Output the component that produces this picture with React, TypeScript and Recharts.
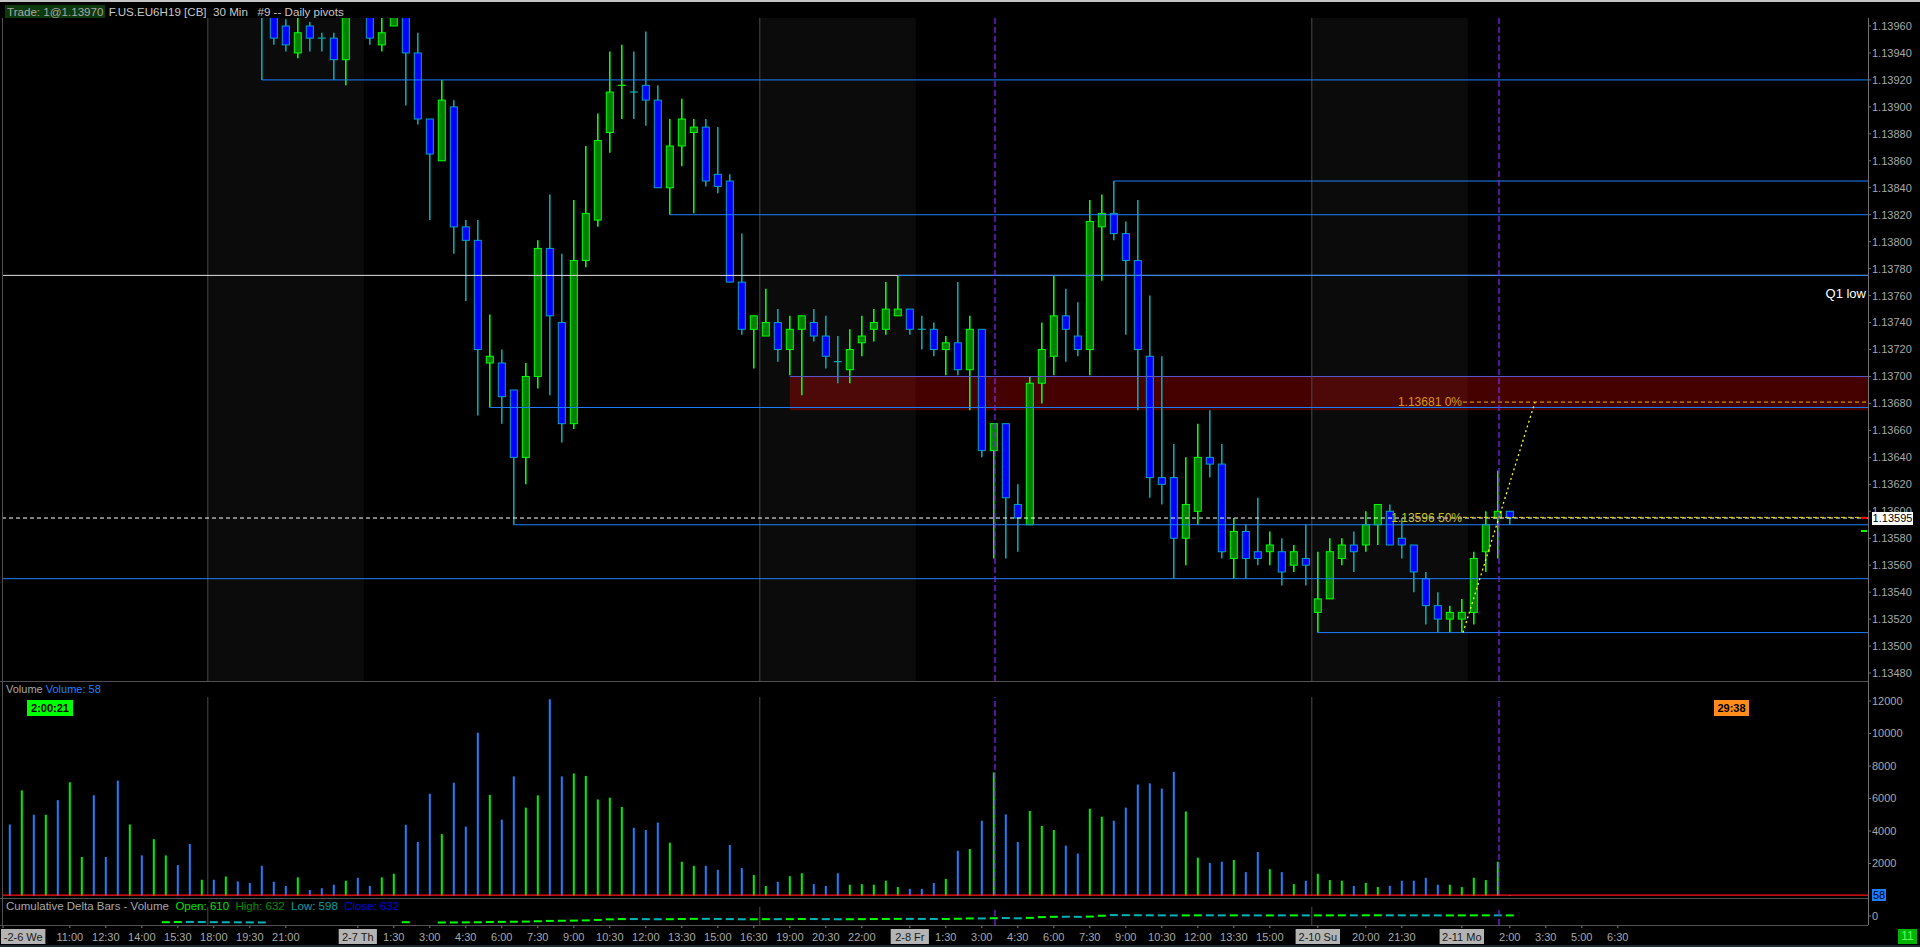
import React from "react";
import { ComposedChart, Bar, XAxis, YAxis, ReferenceLine, ReferenceArea, Cell } from "recharts";

// 30-min bars, 2-6 08:30 .. 2-11 02:00 (ET), index = bar number
const opens = [
  1.1406, 1.14035, 1.1407, 1.14045, 1.14085, 1.14055, 1.141, 1.1411, 1.14075, 1.14065,
  1.1402, 1.1405, 1.14035, 1.14055, 1.14065, 1.14045, 1.14015, 1.14025, 1.14015, 1.1402,
  1.14005, 1.1399, 1.1397, 1.1396, 1.1394, 1.1396, 1.13951, 1.13951, 1.13935, 1.13975,
  1.13972, 1.13946, 1.1396, 1.1397, 1.1394, 1.13891, 1.1386, 1.139, 1.13811, 1.13801,
  1.1371, 1.1371, 1.1369, 1.1364, 1.137, 1.13795, 1.1374, 1.13665, 1.13786, 1.13816,
  1.13881, 1.13915, 1.13911, 1.13916, 1.13905, 1.1384, 1.13871, 1.13881, 1.13885, 1.1385,
  1.13845, 1.1377, 1.13735, 1.1373, 1.1374, 1.1372, 1.13735, 1.1374, 1.1373, 1.13711,
  1.13705, 1.13725, 1.13735, 1.13735, 1.13745, 1.1375, 1.13735, 1.13735, 1.1372, 1.13725,
  1.13705, 1.13735, 1.13645, 1.13665, 1.13605, 1.1359, 1.13695, 1.13715, 1.13745, 1.1373,
  1.1372, 1.13811, 1.13821, 1.13806, 1.13786, 1.13715, 1.13625, 1.13625, 1.1358, 1.136,
  1.1364, 1.13635, 1.13565, 1.13585, 1.1357, 1.1357, 1.1357, 1.1356, 1.13565, 1.13525,
  1.13535, 1.13565, 1.13575, 1.13575, 1.1359, 1.136, 1.1358, 1.13575, 1.1355, 1.1353,
  1.1352, 1.1352, 1.13525, 1.1357, 1.13595, 1.136,
];
const highs = [
  1.14075, 1.1408, 1.14085, 1.1409, 1.14095, 1.1411, 1.14115, 1.1412, 1.14085, 1.1407,
  1.14055, 1.1406, 1.1406, 1.1407, 1.1407, 1.1405, 1.1403, 1.1403, 1.14025, 1.14025,
  1.1401, 1.14, 1.13978, 1.13965, 1.13968, 1.13963, 1.13955, 1.13955, 1.13975, 1.13985,
  1.13976, 1.13967, 1.13975, 1.13975, 1.13955, 1.13891, 1.1392, 1.13905, 1.13816, 1.13816,
  1.13746, 1.1372, 1.1369, 1.1371, 1.13801, 1.13835, 1.13791, 1.13831, 1.13871, 1.13895,
  1.13941, 1.13946, 1.13941, 1.13956, 1.13916, 1.13891, 1.13906, 1.13891, 1.13891, 1.13885,
  1.1385, 1.13806, 1.13745, 1.13765, 1.1375, 1.13745, 1.13745, 1.1375, 1.13745, 1.1373,
  1.13735, 1.13745, 1.1375, 1.1377, 1.13775, 1.1375, 1.13745, 1.1374, 1.1373, 1.1377,
  1.13745, 1.13735, 1.13665, 1.13665, 1.1362, 1.137, 1.1374, 1.13775, 1.13765, 1.13755,
  1.13831, 1.13835, 1.13845, 1.13815, 1.13831, 1.1376, 1.13715, 1.1365, 1.1364, 1.13665,
  1.13675, 1.1365, 1.13595, 1.1359, 1.1361, 1.13585, 1.1358, 1.13575, 1.1359, 1.1357,
  1.1358, 1.1358, 1.13585, 1.136, 1.13605, 1.13605, 1.13595, 1.13575, 1.13555, 1.1354,
  1.1353, 1.13535, 1.1357, 1.136, 1.1363, 1.136,
];
const lows = [
  1.1403, 1.14025, 1.1404, 1.1404, 1.1405, 1.1405, 1.1409, 1.1407, 1.1406, 1.1401,
  1.1401, 1.1403, 1.1403, 1.14045, 1.1404, 1.1401, 1.1401, 1.1401, 1.1401, 1.14,
  1.13985, 1.1392, 1.13946, 1.13941, 1.13936, 1.13941, 1.13941, 1.1392, 1.13916, 1.1397,
  1.13946, 1.13941, 1.1396, 1.13901, 1.13887, 1.13816, 1.1386, 1.13791, 1.13756, 1.13671,
  1.13677, 1.13665, 1.1359, 1.1362, 1.13691, 1.13686, 1.13651, 1.13661, 1.13781, 1.13811,
  1.13866, 1.13891, 1.13891, 1.13886, 1.1384, 1.1382, 1.13856, 1.13821, 1.13841, 1.13836,
  1.1377, 1.13731, 1.13706, 1.1373, 1.13711, 1.13701, 1.13686, 1.13726, 1.13706, 1.13695,
  1.13695, 1.13715, 1.13726, 1.13731, 1.13745, 1.13731, 1.1372, 1.13715, 1.13701, 1.13701,
  1.13675, 1.1364, 1.13565, 1.13565, 1.1357, 1.1359, 1.1368, 1.13701, 1.13711, 1.13715,
  1.13701, 1.13771, 1.13801, 1.13731, 1.13675, 1.1361, 1.13605, 1.1355, 1.1356, 1.1359,
  1.13625, 1.13565, 1.1355, 1.1355, 1.1356, 1.1356, 1.13545, 1.13555, 1.13545, 1.1351,
  1.13535, 1.1356, 1.13555, 1.1357, 1.13575, 1.13575, 1.13565, 1.1354, 1.13516, 1.1351,
  1.1351, 1.1351, 1.13516, 1.13555, 1.13565, 1.1359,
];
const closes = [
  1.14035, 1.1407, 1.14045, 1.14085, 1.14055, 1.141, 1.1411, 1.14075, 1.14065, 1.1402,
  1.1405, 1.14035, 1.14055, 1.14065, 1.14045, 1.14015, 1.14025, 1.14015, 1.1402, 1.14005,
  1.1399, 1.13968, 1.13951, 1.13946, 1.13955, 1.13951, 1.1395, 1.13935, 1.13968, 1.13972,
  1.13951, 1.13955, 1.1397, 1.1394, 1.13891, 1.13865, 1.13905, 1.13811, 1.13801, 1.1372,
  1.13715, 1.13685, 1.1364, 1.137, 1.13795, 1.13745, 1.13665, 1.13786, 1.13821, 1.13875,
  1.13911, 1.13916, 1.1391, 1.13905, 1.1384, 1.13871, 1.13891, 1.13885, 1.13845, 1.13841,
  1.1377, 1.13735, 1.13745, 1.1374, 1.1372, 1.13735, 1.13745, 1.1373, 1.13715, 1.1371,
  1.1372, 1.1373, 1.1374, 1.1375, 1.1375, 1.13735, 1.13734, 1.1372, 1.13725, 1.13705,
  1.13735, 1.13645, 1.13665, 1.1361, 1.13595, 1.13695, 1.1372, 1.13745, 1.13735, 1.1372,
  1.13815, 1.13821, 1.13806, 1.13786, 1.1372, 1.13625, 1.1362, 1.1358, 1.13605, 1.1364,
  1.13635, 1.1357, 1.13585, 1.13565, 1.13565, 1.13575, 1.13555, 1.1357, 1.1356, 1.13535,
  1.1357, 1.13575, 1.1357, 1.1359, 1.13605, 1.13575, 1.13575, 1.13555, 1.1353, 1.1352,
  1.13525, 1.13525, 1.13565, 1.1359, 1.136, 1.13595,
];
const volumes = [
  4400, 6500, 5000, 5000, 5900, 7000, 2400, 6200, 2400, 7100,
  4400, 2500, 3500, 2500, 1900, 3200, 1000, 1000, 1200, 900,
  800, 1860, 870, 620, 1150, 370, 480, 690, 940, 1120,
  620, 1150, 1370, 4380, 3320, 6290, 3810, 6970, 4270, 10050,
  6220, 4700, 7360, 5440, 6190, 12110, 7360, 7540, 7390, 5940,
  6050, 5480, 4200, 4060, 4520, 3280, 2110, 1860, 1860, 1610,
  3140, 1720, 1290, 620, 870, 1220, 1400, 730, 620, 1400,
  690, 730, 690, 940, 550, 440, 440, 800, 1050, 2780,
  2890, 4630, 7610, 5020, 3320, 5230, 4310, 4060, 3100, 2610,
  5370, 4880, 4630, 5440, 6860, 6930, 6610, 7640, 5200, 2360,
  2040, 2110, 2220, 1470, 2710, 1650, 1470, 730, 940, 1370,
  980, 940, 620, 800, 550, 620, 940, 940, 1120, 690,
  690, 550, 1120, 980, 2110, 58,
];
// cumulative delta (null = not drawn inside the strip)
const cumDelta: (number | null)[] = [
  null, null, null, null, null, null, null, null, null, null,
  null, null, null, -6200, -5900, -6000, -6100, -6200, -6300, -6350,
  -6400, -6500, null, null, null, null, null, null, null, null,
  null, null, null, -6200, null, null, -6500, -6400, -6300, -6200,
  -5900, -5800, -5700, -5500, -5000, -4800, -4700, -4500, -4300, -3500,
  -3200, -3000, -3100, -3200, -3300, -3100, -2900, -2800, -2900, -3000,
  -3200, -3300, -3200, -3100, -3200, -3100, -3000, -3100, -3200, -3300,
  -3200, -3100, -3000, -2900, -2850, -2900, -2950, -3000, -2900, -2600,
  -2300, -2600, -1900, -2200, -2400, -1300, -900, -700, -800, -900,
  -300, 900, 850, 800, 750, 650, 620, 560, 640, 700,
  680, 620, 660, 630, 600, 630, 610, 630, 620, 640,
  670, 690, 680, 700, 720, 690, 680, 660, 630, 610,
  620, 630, 660, 690, 610, 632,
];

const priceTicks = [
  1.1348, 1.135, 1.1352, 1.1354, 1.1356, 1.1358, 1.136, 1.1362, 1.1364, 1.1366, 1.1368, 1.137, 1.1372,
  1.1374, 1.1376, 1.1378, 1.138, 1.1382, 1.1384, 1.1386, 1.1388, 1.139, 1.1392, 1.1394, 1.1396,
];
const volumeTicks = [2000, 4000, 6000, 8000, 10000, 12000];

const X_MIN = -0.5667;
const X_MAX = 154.85;

const tickBars = [
  X_MIN, 5, 8, 11, 14, 17, 20, 23, 29, 32, 35, 38, 41, 44, 47, 50, 53, 56, 59, 62, 65, 68, 71, 75,
  78, 81, 84, 87, 90, 93, 96, 99, 102, 105, 109, 113, 116, 121, 125, 128, 131, 134,
];
const tickTexts = [
  "-2-6 We", "11:00", "12:30", "14:00", "15:30", "18:00", "19:30", "21:00", "2-7 Th", "1:30", "3:00",
  "4:30", "6:00", "7:30", "9:00", "10:30", "12:00", "13:30", "15:00", "16:30", "19:00", "20:30",
  "22:00", "2-8 Fr", "1:30", "3:00", "4:30", "6:00", "7:30", "9:00", "10:30", "12:00", "13:30",
  "15:00", "2-10 Su", "20:00", "21:30", "2-11 Mo", "2:00", "3:30", "5:00", "6:30",
];

// swing-point lines of the "Daily pivots" study
const pivotLevels = [1.1392, 1.13845, 1.1382, 1.13775, 1.13677, 1.1359, 1.1355, 1.1351];
const pivotStarts = [21, 92, 55, 74, 40, 42, -1, 109];

const sessionBreaks = [16.5, 62.5, 108.5];
const shadeFrom = [16.5, 62.5, 108.5];
const shadeTo = [29.5, 75.5, 121.5];
const markerBars = [82.1, 124.1];

const zoneFrom = 65;
const zoneLow = 1.13675;
const zoneHigh = 1.137;
const q1Low = 1.13775;
const lastPrice = 1.13595;
const fibLowBar = 121.1;
const fibHighBar = 127.1;
const fibLow = 1.1351;
const fibHigh = 1.13681;
const fibMid = 1.135955;

const P_MIN = 1.13474095;
const P_MAX = 1.13965935;
const V_MAX = 12246;
const D_MIN = -9000;
const D_MAX = 9000;

const UP_WICK = "#00ff00";
const UP_BODY = "#008000";
const DOWN_WICK = "#00a8b0";
const DOWN_BODY = "#0000ff";
const DOWN_EDGE = "#0aa0c8";
const VOL_UP = "#00ee00";
const VOL_DOWN = "#1e80ff";
const PIVOT = "#1e80ff";
const GRID_GRAY = "#4a4a4a";
const AXIS_TEXT = "#a8a8a8";
const FONT = "'Liberation Sans', Arial, sans-serif";

const rows = opens.map((o, i) => {
  const d = cumDelta[i];
  const prev = i > 0 && cumDelta[i - 1] != null ? (cumDelta[i - 1] as number) : d;
  return {
    i,
    open: o,
    high: highs[i],
    low: lows[i],
    close: closes[i],
    range: [lows[i], highs[i]],
    volume: volumes[i],
    dOpen: prev,
    dClose: d,
    dRange: d == null || prev == null ? null : [Math.min(prev, d), Math.max(prev, d)],
  };
});

const Candle = (props: any) => {
  const { x, y, width, height, payload } = props;
  if (x == null || y == null || !payload) return null;
  const { open, high, low, close } = payload;
  const cx = x + width / 2;
  const py = (p: number) => y + ((high - p) / (high - low)) * height;
  const up = close >= open;
  const wick = up ? UP_WICK : DOWN_WICK;
  const top = py(Math.max(open, close));
  const bot = py(Math.min(open, close));
  const bh = bot - top;
  return (
    <g>
      <line x1={cx} x2={cx} y1={y} y2={y + height} stroke={wick} strokeWidth={1.6} />
      {bh < 2 ? (
        <line x1={cx - 4} x2={cx + 4} y1={top} y2={top} stroke={wick} strokeWidth={1.2} />
      ) : (
        <rect
          x={cx - 3.5}
          y={top}
          width={7}
          height={bh}
          fill={up ? UP_BODY : DOWN_BODY}
          stroke={up ? UP_WICK : DOWN_EDGE}
          strokeWidth={1}
        />
      )}
    </g>
  );
};

const DeltaDash = (props: any) => {
  const { x, y, width, height, payload } = props;
  if (x == null || y == null || !payload || payload.dClose == null) return null;
  const cx = x + width / 2;
  const h = Math.max(2, height || 0);
  const up = payload.dClose >= payload.dOpen;
  return <rect x={cx - 4} y={y + (height || 0) / 2 - h / 2} width={8} height={h} fill={up ? "#00ff00" : "#00b4b4"} />;
};

const TimeTick = (props: any) => {
  const { x, payload } = props;
  const idx = tickBars.indexOf(payload.value);
  const text = tickTexts[idx];
  if (text == null) return null;
  if (text.includes(" ")) {
    const w = text.length * 6.2 + 1;
    const left = idx === 0 ? 1 : x - w / 2;
    return (
      <g>
        <rect x={left} y={23} width={w} height={15} fill="#b4b4b4" />
        <text x={left + w / 2} y={35} textAnchor="middle" fill="#1a1a1a" fontSize={11} fontFamily={FONT}>
          {text}
        </text>
      </g>
    );
  }
  return (
    <text x={x} y={35} textAnchor="middle" fill={AXIS_TEXT} fontSize={11} fontFamily={FONT}>
      {text}
    </text>
  );
};

const abs = (left: number, top: number, extra: React.CSSProperties = {}): React.CSSProperties => ({
  position: "absolute",
  left,
  top,
  ...extra,
});

export default function App() {
  const axisTick = { fill: AXIS_TEXT, fontSize: 11, fontFamily: FONT };
  const lastVol = volumes[volumes.length - 1];

  return (
    <div
      style={{
        position: "absolute",
        left: 0,
        top: 0,
        width: 1920,
        height: 947,
        background: "#000",
        overflow: "hidden",
        fontFamily: FONT,
      }}
    >
      {/* price panel */}
      <div style={abs(0, 18)}>
        <ComposedChart width={1920} height={663} data={rows} margin={{ top: 0, right: 0, bottom: 0, left: 3 }}>
          <XAxis type="number" dataKey="i" domain={[X_MIN, X_MAX]} allowDataOverflow hide />
          <YAxis
            orientation="right"
            width={52}
            domain={[P_MIN, P_MAX]}
            allowDataOverflow
            ticks={priceTicks}
            interval={0}
            tickFormatter={(v: number) => v.toFixed(5)}
            tick={axisTick}
            axisLine={false}
            tickLine={{ stroke: "#707070" }}
            tickSize={3}
            tickMargin={1}
          />
          {shadeFrom.map((f, k) => (
            <ReferenceArea key={"s" + k} x1={f} x2={shadeTo[k]} fill="#ffffff" fillOpacity={0.045} stroke="none" ifOverflow="hidden" />
          ))}
          <ReferenceArea x1={zoneFrom} x2={X_MAX} y1={zoneLow} y2={zoneHigh} fill="#ff0000" fillOpacity={0.27} stroke="none" ifOverflow="hidden" />
          <ReferenceLine
            segment={[{ x: zoneFrom, y: zoneHigh }, { x: X_MAX, y: zoneHigh }]}
            stroke="#5a5ad0"
            strokeWidth={1}
            ifOverflow="hidden"
          />
          {sessionBreaks.map((b) => (
            <ReferenceLine key={"g" + b} x={b} stroke={GRID_GRAY} strokeWidth={1} />
          ))}
          <ReferenceLine y={q1Low} stroke="#e0e0e0" strokeWidth={1} />
          {pivotLevels.map((lv, k) => (
            <ReferenceLine
              key={"p" + k}
              segment={[{ x: pivotStarts[k], y: lv }, { x: X_MAX, y: lv }]}
              stroke={PIVOT}
              strokeWidth={1}
              ifOverflow="hidden"
            />
          ))}
          <ReferenceLine y={lastPrice} stroke="#ffffff" strokeDasharray="4 3" strokeWidth={1} />
          <ReferenceLine
            segment={[{ x: fibLowBar, y: fibHigh }, { x: X_MAX, y: fibHigh }]}
            stroke="#f0b400"
            strokeDasharray="4 3"
            ifOverflow="hidden"
            label={{ value: "1.13681 0%", position: "left", offset: 1, fill: "#d99a00", fontSize: 12, fontFamily: FONT }}
          />
          <ReferenceLine
            segment={[{ x: fibLowBar, y: fibMid }, { x: X_MAX, y: fibMid }]}
            stroke="#f0e000"
            strokeDasharray="4 3"
            ifOverflow="hidden"
            label={{ value: "1.13596 50%", position: "left", offset: 1, fill: "#c8c020", fontSize: 12, fontFamily: FONT }}
          />
          <ReferenceLine
            segment={[{ x: fibLowBar, y: fibLow }, { x: fibHighBar, y: fibHigh }]}
            stroke="#ffff00"
            strokeDasharray="2 3"
            strokeWidth={1.3}
            ifOverflow="hidden"
          />
          {markerBars.map((m) => (
            <ReferenceLine key={"m" + m} x={m} stroke="#8a20ff" strokeDasharray="6 3" strokeWidth={1.2} />
          ))}
          <Bar dataKey="range" shape={Candle} barSize={8} isAnimationActive={false} />
        </ComposedChart>
      </div>

      {/* volume panel */}
      <div style={abs(0, 681)}>
        <ComposedChart width={1920} height={225} data={rows} margin={{ top: 16, right: 0, bottom: 10, left: 3 }}>
          <XAxis type="number" dataKey="i" domain={[X_MIN, X_MAX]} allowDataOverflow hide />
          <YAxis
            orientation="right"
            width={52}
            domain={[0, V_MAX]}
            allowDataOverflow
            ticks={volumeTicks}
            interval={0}
            tick={axisTick}
            axisLine={false}
            tickLine={{ stroke: "#707070" }}
            tickSize={3}
            tickMargin={1}
          />
          {sessionBreaks.map((b) => (
            <ReferenceLine key={"vg" + b} x={b} stroke={GRID_GRAY} strokeWidth={1} />
          ))}
          {markerBars.map((m) => (
            <ReferenceLine key={"vm" + m} x={m} stroke="#8a20ff" strokeDasharray="6 3" strokeWidth={1.2} />
          ))}
          <Bar dataKey="volume" barSize={2} isAnimationActive={false}>
            {rows.map((r) => (
              <Cell key={r.i} fill={r.close >= r.open ? VOL_UP : VOL_DOWN} />
            ))}
          </Bar>
          <ReferenceLine y={lastVol} stroke="#ff1010" strokeWidth={1.2} />
        </ComposedChart>
      </div>

      {/* cumulative delta + time axis */}
      <div style={abs(0, 906)}>
        <ComposedChart width={1920} height={41} data={rows} margin={{ top: 1, right: 0, bottom: 0, left: 3 }}>
          <XAxis
            type="number"
            dataKey="i"
            domain={[X_MIN, X_MAX]}
            allowDataOverflow
            ticks={tickBars}
            interval={0}
            tick={<TimeTick />}
            height={22}
            axisLine={false}
            tickLine={{ stroke: "#808080" }}
            tickSize={3}
          />
          <YAxis
            orientation="right"
            width={52}
            domain={[D_MIN, D_MAX]}
            allowDataOverflow
            ticks={[0]}
            tick={axisTick}
            axisLine={false}
            tickLine={{ stroke: "#707070" }}
            tickSize={3}
            tickMargin={1}
          />
          {sessionBreaks.map((b) => (
            <ReferenceLine key={"dg" + b} x={b} stroke={GRID_GRAY} strokeWidth={1} />
          ))}
          {markerBars.map((m) => (
            <ReferenceLine key={"dm" + m} x={m} stroke="#8a20ff" strokeDasharray="6 3" strokeWidth={1.2} />
          ))}
          <Bar dataKey="dRange" shape={DeltaDash} barSize={8} isAnimationActive={false} />
        </ComposedChart>
      </div>

      {/* frame lines */}
      <div style={abs(0, 0, { width: 1920, height: 2, background: "#c4c4c4" })} />
      <div style={abs(2, 18, { width: 1, height: 907, background: "#505050" })} />
      <div style={abs(1868, 18, { width: 1, height: 907, background: "#707070" })} />
      <div style={abs(0, 681, { width: 1868, height: 1, background: "#505050" })} />
      <div style={abs(0, 898, { width: 1868, height: 1, background: "#505050" })} />
      <div style={abs(0, 925, { width: 1868, height: 1, background: "#505050" })} />
      <div style={abs(0, 945, { width: 1920, height: 2, background: "#1c2a38" })} />

      {/* header */}
      <div style={abs(5, 4, { height: 15, lineHeight: "15px", fontSize: 11.6, whiteSpace: "pre" })}>
        <span style={{ background: "#0c3a0c", color: "#a8a8a8", padding: "0 2px" }}>Trade: 1@1.13970</span>
        <span style={{ color: "#c8c8c8" }}> F.US.EU6H19 [CB]  30 Min   #9 -- Daily pivots</span>
      </div>

      {/* Q1 low label */}
      <div style={{ position: "absolute", right: 54, top: 286, color: "#ffffff", fontSize: 13, lineHeight: "16px" }}>Q1 low</div>

      {/* price axis markers */}
      <div style={abs(1872, 512, { width: 41, height: 13, background: "#ffffff", color: "#000", fontSize: 11, lineHeight: "13px", textAlign: "center" })}>
        1.13595
      </div>
      <div style={abs(1861, 517, { width: 6, height: 2, background: "#ff0000" })} />
      <div style={abs(1861, 530, { width: 6, height: 2, background: "#00ff00" })} />

      {/* volume labels */}
      <div style={abs(6, 683, { fontSize: 11, lineHeight: "12px", whiteSpace: "pre" })}>
        <span style={{ color: "#a8a8a8" }}>Volume </span>
        <span style={{ color: "#1e80ff" }}>Volume: 58</span>
      </div>
      <div style={abs(27, 700, { width: 46, height: 16, background: "#00ff00", color: "#000", fontSize: 11, fontWeight: "bold", lineHeight: "16px", textAlign: "center" })}>
        2:00:21
      </div>
      <div style={abs(1714, 700, { width: 35, height: 16, background: "#ff8c1a", color: "#000", fontSize: 11, fontWeight: "bold", lineHeight: "16px", textAlign: "center" })}>
        29:38
      </div>
      <div style={abs(1872, 889, { width: 14, height: 12, background: "#1e80ff", color: "#000", fontSize: 11, lineHeight: "12px", textAlign: "center" })}>
        58
      </div>

      {/* delta label */}
      <div style={abs(6, 900, { fontSize: 11.5, lineHeight: "12px", whiteSpace: "pre" })}>
        <span style={{ color: "#a8a8a8" }}>Cumulative Delta Bars - Volume  </span>
        <span style={{ color: "#00e000" }}>Open: 610  </span>
        <span style={{ color: "#009000" }}>High: 632  </span>
        <span style={{ color: "#00a0a0" }}>Low: 598  </span>
        <span style={{ color: "#0000e0" }}>Close: 632</span>
      </div>
      <div style={abs(1898, 929, { width: 19, height: 15, background: "#00b400", color: "#60ff60", fontSize: 12, lineHeight: "15px", textAlign: "center" })}>
        11
      </div>
    </div>
  );
}
